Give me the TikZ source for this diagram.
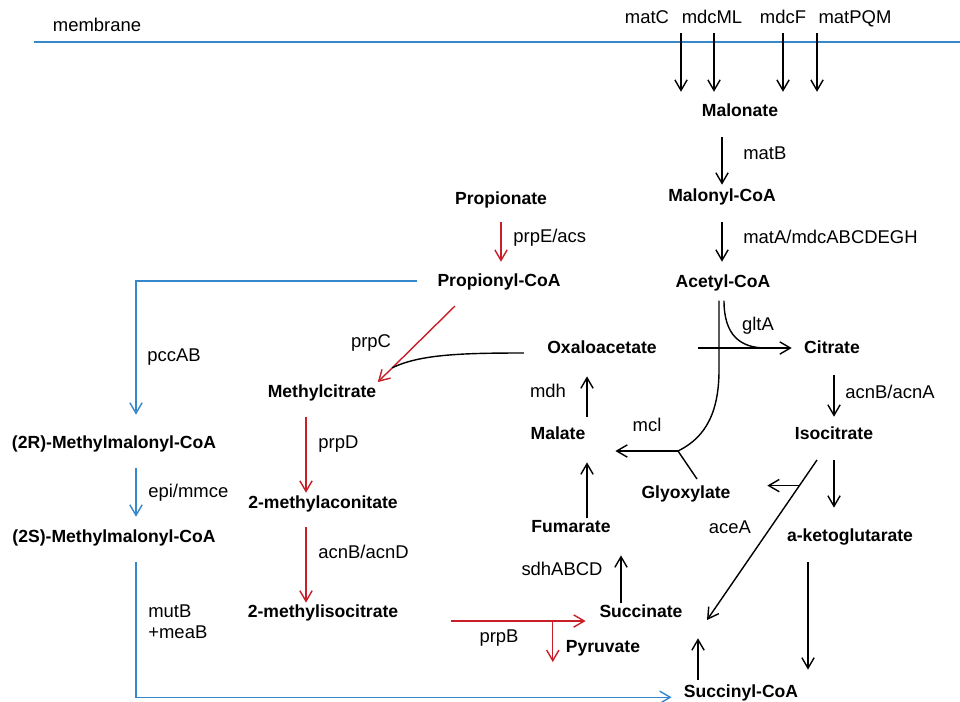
\documentclass[tikz,border=0pt]{standalone}
\usepackage{fontspec}
\setmainfont{Liberation Sans}
\usepackage{tikz}
\usetikzlibrary{arrows.meta}
\definecolor{pathred}{RGB}{200,30,40}
\definecolor{pathblue}{RGB}{55,135,205}

\begin{document}
\begin{tikzpicture}[x=0.02cm, y=-0.02cm,
    met/.style={font=\bfseries\fontsize{10}{12}\selectfont, inner sep=0pt, text height=8pt, text depth=1.5pt},
    lbl/.style={font=\fontsize{10.5}{12}\selectfont, inner sep=0pt, text height=8pt, text depth=1.5pt},
    rxn/.style={-{Straight Barb[length=6pt,width=7pt]}, line width=0.8pt},
    prp/.style={rxn, pathred},
    mmc/.style={rxn, pathblue}]
    \useasboundingbox (0,0) rectangle (960,701);

    % membrane and transporters
    \draw[pathblue, line width=0.8pt] (34,42) -- (960,42);
    \node[lbl] (membrane) at (97,26) {membrane};
    \node[lbl] (matC) at (647,18) {matC};
    \node[lbl] (mdcML) at (712,18) {mdcML};
    \node[lbl] (mdcF) at (783,18) {mdcF};
    \node[lbl] (matPQM) at (855,18) {matPQM};

    % metabolites
    \node[met] (malonate) at (740,111) {Malonate};
    \node[met] (malonylcoa) at (722,196) {Malonyl-CoA};
    \node[met] (acetylcoa) at (723,282) {Acetyl-CoA};
    \node[met] (propionate) at (501,199) {Propionate};
    \node[met] (propionylcoa) at (499,281) {Propionyl-CoA};
    \node[met] (oxaloacetate) at (602,348) {Oxaloacetate};
    \node[met] (citrate) at (832,348) {Citrate};
    \node[met] (methylcitrate) at (322,392) {Methylcitrate};
    \node[met] (malate) at (558,434) {Malate};
    \node[met] (isocitrate) at (834,434) {Isocitrate};
    \node[met] (glyoxylate) at (686,493) {Glyoxylate};
    \node[met] (mmcoaR) at (114,443) {(2R)-Methylmalonyl-CoA};
    \node[met] (mmcoaS) at (114,537) {(2S)-Methylmalonyl-CoA};
    \node[met] (aconitate) at (323,503) {2-methylaconitate};
    \node[met] (akg) at (850,536) {a-ketoglutarate};
    \node[met] (fumarate) at (571,527) {Fumarate};
    \node[met] (misocitrate) at (323,612) {2-methylisocitrate};
    \node[met] (succinate) at (641,612) {Succinate};
    \node[met] (pyruvate) at (603,647) {Pyruvate};
    \node[met] (succinylcoa) at (741,692) {Succinyl-CoA};

    % enzymes
    \node[lbl, anchor=west] (matB) at (743,154) {matB};
    \node[lbl, anchor=west] (matA) at (743,238) {matA/mdcABCDEGH};
    \node[lbl, anchor=west] (prpE) at (513,237) {prpE/acs};
    \node[lbl] (pccAB) at (174,356) {pccAB};
    \node[lbl, anchor=west] (epi) at (148,492) {epi/mmce};
    \node[lbl, anchor=west] (mutB) at (148,612) {mutB};
    \node[lbl, anchor=west] (meaB) at (148,633) {+meaB};
    \node[lbl] (prpC) at (371,342) {prpC};
    \node[lbl, anchor=west] (prpD) at (318,443) {prpD};
    \node[lbl, anchor=west] (acnD) at (318,553) {acnB/acnD};
    \node[lbl] (prpB) at (499,637) {prpB};
    \node[lbl] (gltA) at (758,325) {gltA};
    \node[lbl, anchor=west] (acnA) at (845,393) {acnB/acnA};
    \node[lbl] (mdh) at (548,392) {mdh};
    \node[lbl] (mcl) at (647,426) {mcl};
    \node[lbl] (aceA) at (730,528) {aceA};
    \node[lbl] (sdh) at (562,570) {sdhABCD};

    % lanes
    \coordinate (lane) at (136,0);
    \coordinate (redlane) at (306,0);
    \coordinate (tcalane) at (587,0);

    % malonate uptake
    \foreach \x in {681,714,783,817}
        \draw[rxn, shorten >=6pt] (\x,33) -- (\x,0 |- malonate.north);
    \draw[rxn, shorten <=10pt, shorten >=1.5pt] (malonate.south -| malonylcoa) -- (malonylcoa.north);
    \draw[rxn, shorten <=10pt, shorten >=6.6pt] (malonylcoa.south) -- (acetylcoa.north -| malonylcoa);

    % propionate
    \draw[prp, shorten <=8.3pt, shorten >=6pt] (propionate.south) -- (propionylcoa.north -| propionate);

    % methylmalonyl-CoA route
    \draw[mmc, shorten <=11.7pt, shorten >=11.2pt] (propionylcoa.west) -| (mmcoaR.north -| lane);
    \draw[mmc, shorten <=9.5pt, shorten >=6.6pt] (mmcoaR.south -| lane) -- (mmcoaS.north -| lane);
    \draw[mmc, shorten <=9.5pt, shorten >=6.8pt] (mmcoaS.south -| lane) |- ([yshift=-3pt]succinylcoa.west);

    % methylcitrate cycle
    \coordinate (prpCstart) at (455,306);
    \draw[prp, shorten >=1pt] (prpCstart) -- coordinate[pos=0.8] (prpCjoin) (methylcitrate.north east);
    \draw[line width=0.8pt] ([shift={(-23,5)}]oxaloacetate.west) .. controls (465,353) and (420,354) .. (prpCjoin);
    \draw[prp, shorten <=9.5pt, shorten >=0.9pt] (redlane |- methylcitrate.south) -- (redlane |- aconitate.north);
    \draw[prp, shorten <=8.9pt, shorten >=0.4pt] (redlane |- aconitate.south) -- (redlane |- misocitrate.north);
    \coordinate (prpBstart) at (451,621);
    \draw[prp, shorten >=7.7pt] (prpBstart) -- coordinate[pos=0.687] (prpBsplit) (prpBstart -| succinate.west);
    \draw[prp] (prpBsplit) -- ++(0,41);

    % TCA and glyoxylate cycle
    \draw[rxn, shorten <=23.5pt, shorten >=6.9pt] (oxaloacetate.east) -- (citrate.west);
    \draw[line width=0.8pt] ([shift={(1,10)}]acetylcoa.south) .. controls (724,335) and (740,348) .. (766,348);
    \draw[line width=0.8pt] ([shift={(-4,10)}]acetylcoa.south) -- (719,370)
        .. controls (719,420) and (700,440) .. (678,451) coordinate (mclY);
    \draw[rxn, shorten >=16.9pt] (mclY) -- (mclY -| malate.east);
    \draw[line width=0.8pt] (mclY) -- ++(19,28);
    \draw[rxn, shorten <=4.9pt, shorten >=11.2pt] (tcalane |- malate.north) -- (tcalane |- oxaloacetate.south);
    \draw[rxn, shorten >=11.2pt] (tcalane |- fumarate.north) -- (tcalane |- malate.south);
    \draw[rxn, shorten >=11.2pt] (621,0 |- succinate.north) -- (621,0 |- fumarate.south);
    \draw[rxn, shorten <=2pt, shorten >=10pt] (698,0 |- succinylcoa.north) -- (698,0 |- succinate.south);
    \draw[rxn, shorten <=10.6pt, shorten >=4.9pt] (citrate.south -| isocitrate) -- (isocitrate.north);
    \draw[rxn, shorten <=10pt, shorten >=11.2pt] (isocitrate.south) -- (isocitrate.south |- akg.north);
    \coordinate (aceAstart) at (817,460);
    \coordinate (aceAend) at (707,620);
    \draw[rxn] (aceAstart) -- coordinate[pos=0.16] (aceAsplit) (aceAend);
    \draw[rxn, shorten >=20.8pt] (aceAsplit) -- (aceAsplit -| glyoxylate.east);
    \draw[rxn, shorten <=10pt, shorten >=7.8pt] (808,0 |- akg.south) -- (808,0 |- succinylcoa.north);
\end{tikzpicture}
\end{document}
